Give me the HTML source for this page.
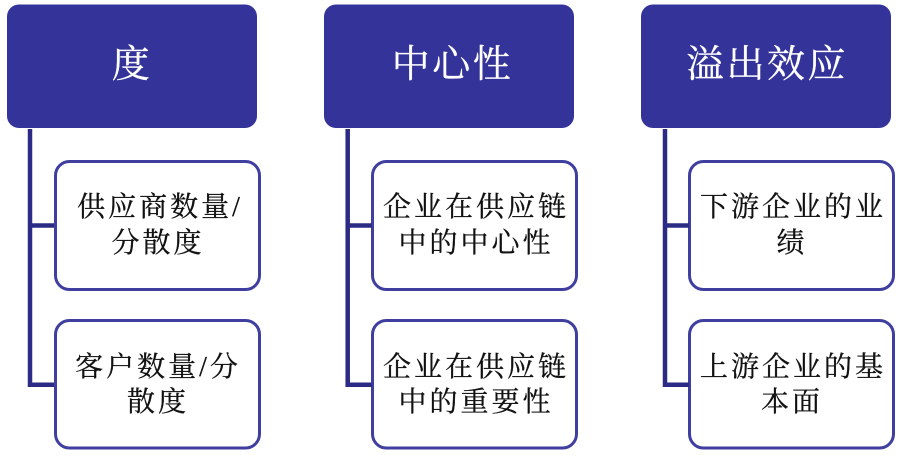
<!DOCTYPE html>
<html><head><meta charset="utf-8"><style>
html,body{margin:0;padding:0;background:#fff;width:903px;height:456px;overflow:hidden}
svg{display:block;filter:blur(.35px)}
text{font-family:"Liberation Serif","Noto Serif CJK SC",serif;text-anchor:middle}
.t{font-size:38px;letter-spacing:2.5px;fill:#fff;stroke:#fff;stroke-width:.3px}
.c{font-size:28px;letter-spacing:3px;fill:#111;stroke:#111;stroke-width:.3px}
</style></head><body>
<svg width="903" height="456" viewBox="0 0 903 456" xmlns="http://www.w3.org/2000/svg">
<defs><g id="col">
<rect x="7" y="4.500" width="250" height="123.500" rx="12" fill="#333399"/>
<rect x="55.500" y="161.500" width="204" height="128" rx="14" fill="#fff" stroke="#3f3f9f" stroke-width="3"/>
<rect x="55.500" y="320.500" width="204" height="127.500" rx="14" fill="#fff" stroke="#3f3f9f" stroke-width="3"/>
</g>
<path id="con" d="M30 129V384.700H54M30 225.500H54" fill="none" stroke="#2b2b85" stroke-width="4.500"/>
</defs>
<use href="#col"/>
<use href="#col" x="317"/>
<use href="#col" x="634"/>
<use href="#con"/>
<use href="#con" x="317.700"/>
<use href="#con" x="635"/>
<text class="t" x="132" y="77">度</text>
<text class="t" x="452.500" y="77">中心性</text>
<text class="t" x="767" y="77">溢出效应</text>
<text class="c" x="160" y="216">供应商数量/</text>
<text class="c" x="158" y="252">分散度</text>
<text class="c" x="158" y="376">客户数量/分</text>
<text class="c" x="158" y="411">散度</text>
<text class="c" x="476" y="216">企业在供应链</text>
<text class="c" x="476" y="252">中的中心性</text>
<text class="c" x="476" y="376">企业在供应链</text>
<text class="c" x="476" y="411">中的重要性</text>
<text class="c" x="793" y="216">下游企业的业</text>
<text class="c" x="792" y="252">绩</text>
<text class="c" x="793" y="376">上游企业的基</text>
<text class="c" x="792" y="411">本面</text>
</svg>
</body></html>
